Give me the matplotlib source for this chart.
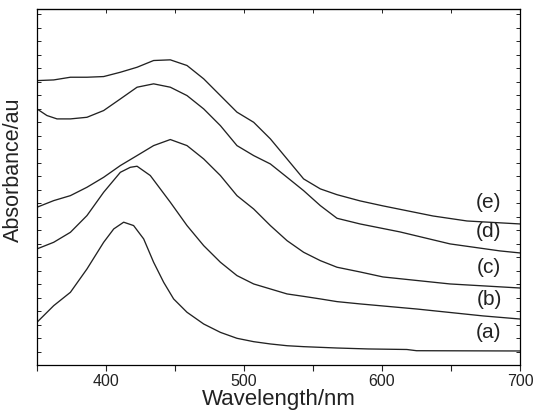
import matplotlib
matplotlib.use("Agg")
import matplotlib.pyplot as plt
from matplotlib.ticker import MultipleLocator, NullFormatter

plt.rcParams['font.family'] = ['Liberation Sans', 'DejaVu Sans']

wl_a = [350, 362.1, 374.2, 386.2, 398.3, 405.6, 412.8, 420.0, 427.3, 434.5, 441.8, 449.0, 458.7, 470.8, 482.9, 494.9, 507.0, 519.1, 531.2, 543.2, 567.4, 590, 618, 625, 700]
abs_a = [0.317, 0.440, 0.539, 0.712, 0.910, 1.009, 1.059, 1.034, 0.935, 0.762, 0.613, 0.490, 0.391, 0.304, 0.242, 0.198, 0.173, 0.156, 0.143, 0.136, 0.126, 0.119, 0.115, 0.106, 0.104]

wl_b = [350, 362.1, 374.2, 386.2, 398.3, 410.4, 417.6, 422.5, 432.1, 446.6, 458.7, 470.8, 482.9, 494.9, 507.0, 519.1, 531.2, 543.2, 555.3, 567.4, 584.1, 625.4, 673.2, 700]
abs_b = [0.861, 0.910, 0.984, 1.108, 1.281, 1.429, 1.466, 1.474, 1.405, 1.207, 1.034, 0.885, 0.762, 0.663, 0.601, 0.564, 0.527, 0.509, 0.490, 0.470, 0.453, 0.415, 0.364, 0.341]

wl_c = [350, 362.1, 374.2, 386.2, 398.3, 410.4, 422.5, 434.5, 446.6, 458.7, 470.8, 482.9, 494.9, 507.0, 519.1, 531.2, 543.2, 555.3, 567.4, 584.1, 600.7, 649.3, 700]
abs_c = [1.170, 1.219, 1.256, 1.318, 1.392, 1.479, 1.553, 1.627, 1.672, 1.627, 1.528, 1.405, 1.256, 1.157, 1.034, 0.922, 0.836, 0.774, 0.725, 0.690, 0.653, 0.601, 0.571]

wl_d = [350, 357.2, 364.5, 374.2, 386.2, 398.3, 410.4, 422.5, 434.5, 446.6, 458.7, 470.8, 482.9, 494.9, 507.0, 519.1, 531.2, 543.2, 555.3, 567.4, 584.1, 613.0, 649.3, 685.5, 700]
abs_d = [1.899, 1.850, 1.825, 1.825, 1.837, 1.887, 1.973, 2.060, 2.085, 2.060, 1.998, 1.899, 1.775, 1.627, 1.553, 1.491, 1.392, 1.293, 1.182, 1.088, 1.046, 0.987, 0.898, 0.846, 0.831]

wl_e = [350, 362.1, 374.2, 386.2, 398.3, 410.4, 422.5, 434.5, 446.6, 458.7, 470.8, 482.9, 494.9, 507.0, 519.1, 531.2, 543.2, 555.3, 567.4, 584.1, 600.7, 637.0, 661.6, 700]
abs_e = [2.109, 2.114, 2.134, 2.134, 2.139, 2.171, 2.208, 2.258, 2.263, 2.221, 2.122, 1.998, 1.875, 1.800, 1.677, 1.528, 1.380, 1.306, 1.263, 1.217, 1.180, 1.105, 1.068, 1.046]

labels = ['(a)', '(b)', '(c)', '(d)', '(e)']
label_x = 677.5
label_y = [0.245, 0.490, 0.727, 1.001, 1.209]

fig = plt.figure(figsize=(5.37, 4.14), dpi=100)
ax = fig.add_axes([37/537, 1-366/414, (520-37)/537, (366-10)/414])

for wl, ab in [(wl_a, abs_a), (wl_b, abs_b), (wl_c, abs_c), (wl_d, abs_d), (wl_e, abs_e)]:
    ax.plot(wl, ab, color='#222222', lw=0.95)

for lab, y in zip(labels, label_y):
    ax.text(label_x, y, lab, fontsize=15, ha='center', va='center', color='#222222')

ax.set_xlim(350, 700)
ax.set_ylim(0, 2.64)
ax.xaxis.set_major_locator(MultipleLocator(100))
ax.xaxis.set_minor_locator(MultipleLocator(50))
ax.yaxis.set_major_locator(MultipleLocator(0.1))
ax.yaxis.set_major_formatter(NullFormatter())
ax.tick_params(axis='x', which='both', direction='out', labelsize=11.5, length=4, width=0.8, pad=2, colors='#222222')
ax.tick_params(axis='y', which='both', direction='in', right=True, length=3, width=0.6)

top = ax.secondary_xaxis('top')
top.xaxis.set_major_locator(MultipleLocator(50))
top.xaxis.set_major_formatter(NullFormatter())
top.tick_params(direction='in', length=3, width=0.6)

ax.set_xlabel('Wavelength/nm', fontsize=16, labelpad=0, color='#222222')
ax.set_ylabel('Absorbance/au', fontsize=15.5, color='#222222')
ax.yaxis.set_label_coords(-0.028, 0.55)
for s in ax.spines.values():
    s.set_linewidth(0.9)

fig.savefig('out.png', dpi=100)
